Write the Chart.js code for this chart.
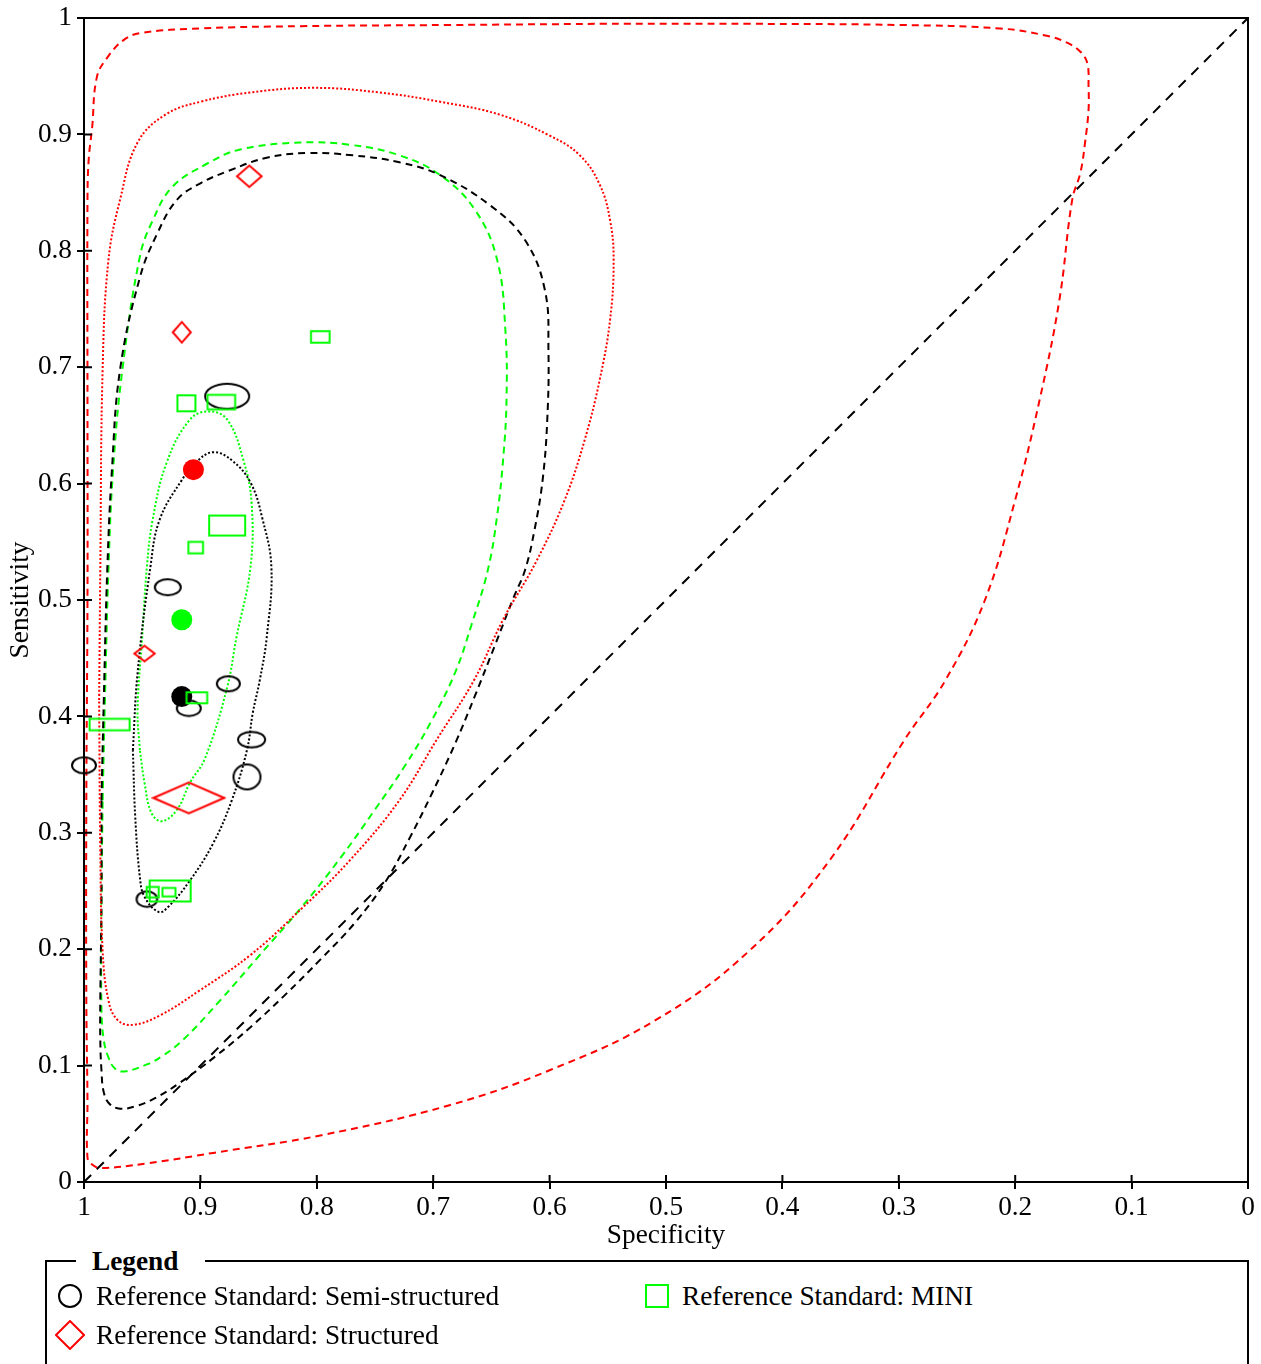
<!DOCTYPE html>
<html>
<head>
<meta charset="utf-8">
<title>SROC plot</title>
<script src="https://cdn.jsdelivr.net/npm/chart.js@4.4.1/dist/chart.umd.min.js"></script>
<style>
  body { margin: 0; background: #fff; }
  #wrap { position: relative; width: 1261px; height: 1364px; overflow: hidden; font-family: 'Liberation Serif', 'Times New Roman', serif; font-size: 27.3px; color: #000; }
  #sroc { position: absolute; left: 0; top: 0; }
  #legendBox { position: absolute; left: 45px; top: 1260px; width: 1204px; height: 200px; box-sizing: border-box; border: 2px solid #000; }
  #legendTitle { position: absolute; left: 76px; top: 1245px; padding: 0 27px 0 16px; background: #fff; font-weight: bold; line-height: 32px; }
  .item { position: absolute; line-height: 32px; white-space: nowrap; }
  .icon { position: absolute; }
</style>
</head>
<body>
<div id="wrap">
  <canvas id="sroc" width="1261" height="1252"></canvas>
  <div id="legendBox"></div>
  <div id="legendTitle">Legend</div>
  <svg class="icon" style="left:57px;top:1283px" width="26" height="26"><ellipse cx="13" cy="13" rx="11" ry="11" fill="none" stroke="#000" stroke-width="2"/></svg>
  <div class="item" style="left:96px;top:1280px">Reference Standard: Semi-structured</div>
  <svg class="icon" style="left:55px;top:1320px" width="30" height="30"><polygon points="1,15 15,1 29,15 15,29" fill="none" stroke="#ff0000" stroke-width="2"/></svg>
  <div class="item" style="left:96px;top:1319px">Reference Standard: Structured</div>
  <svg class="icon" style="left:645px;top:1284px" width="24" height="24"><rect x="1" y="1" width="22" height="22" fill="none" stroke="#00ff00" stroke-width="2"/></svg>
  <div class="item" style="left:682px;top:1280px">Reference Standard: MINI</div>
</div>
<script>
// Axis ticks (both axes use the same values)
const tickValues = [0, 0.1, 0.2, 0.3, 0.4, 0.5, 0.6, 0.7, 0.8, 0.9, 1];
const tickLabels = ['0', '0.1', '0.2', '0.3', '0.4', '0.5', '0.6', '0.7', '0.8', '0.9', '1'];

// Study estimates, Reference Standard: Semi-structured (ellipses)
const semiSpec = [0.877, 0.928, 0.876, 0.910, 0.856, 0.860, 1.000, 0.946];
const semiSens = [0.675, 0.511, 0.428, 0.407, 0.380, 0.348, 0.358, 0.243];
// marker half width / half height in px (proportional to study size)
const semiBoxW = [22, 13, 11.5, 12, 13.5, 13.5, 12, 10.3];
const semiBoxH = [12.5, 8, 7.5, 7.8, 7.8, 12.5, 8, 7.8];

// Study estimates, Reference Standard: MINI (rectangles)
const miniSpec = [0.912, 0.882, 0.877, 0.904, 0.903, 0.978, 0.926, 0.941, 0.927, 0.797];
const miniSens = [0.669, 0.670, 0.564, 0.545, 0.416, 0.393, 0.250, 0.249, 0.249, 0.726];
const miniBoxW = [9, 13.8, 18, 7.3, 10.3, 20, 20.5, 6, 6.5, 9.3];
const miniBoxH = [8, 7.3, 10, 5.8, 5.5, 5.8, 10.5, 5.2, 4.3, 5.7];

// Study estimates, Reference Standard: Structured (diamonds)
const structSpec = [0.858, 0.916, 0.948, 0.910];
const structSens = [0.864, 0.730, 0.454, 0.330];
const structBoxW = [12.3, 9, 10.2, 35.3];
const structBoxH = [10.7, 10.3, 7.8, 15.3];

// Summary points: semi-structured, MINI, structured
const summarySpec = [0.916, 0.916, 0.906];
const summarySens = [0.417, 0.483, 0.612];

// 95% confidence regions (dotted)
const semiConfSpec = [0.889, 0.873, 0.857, 0.847, 0.839, 0.843, 0.849, 0.855, 0.860, 0.873, 0.889, 0.909, 0.928, 0.936, 0.948, 0.952, 0.956, 0.958, 0.954, 0.943, 0.935, 0.916, 0.903];
const semiConfSens = [0.627, 0.620, 0.601, 0.571, 0.528, 0.468, 0.431, 0.403, 0.371, 0.328, 0.291, 0.259, 0.236, 0.232, 0.245, 0.262, 0.314, 0.371, 0.437, 0.528, 0.569, 0.603, 0.619];

const miniConfSpec = [0.893, 0.877, 0.863, 0.856, 0.857, 0.869, 0.877, 0.896, 0.909, 0.920, 0.933, 0.942, 0.948, 0.952, 0.954, 0.950, 0.946, 0.941, 0.929, 0.909];
const miniConfSens = [0.662, 0.655, 0.620, 0.583, 0.528, 0.468, 0.425, 0.364, 0.343, 0.320, 0.310, 0.317, 0.343, 0.371, 0.405, 0.468, 0.528, 0.569, 0.618, 0.655];

const structConfSpec = [0.803, 0.746, 0.694, 0.643, 0.600, 0.574, 0.557, 0.548, 0.545, 0.548, 0.557, 0.570, 0.587, 0.611, 0.640, 0.665, 0.697, 0.729, 0.771, 0.814, 0.857, 0.900, 0.935, 0.958, 0.971, 0.979, 0.984, 0.986, 0.987, 0.986, 0.984, 0.979, 0.969, 0.954, 0.930, 0.900, 0.857];
const structConfSens = [0.940, 0.936, 0.928, 0.917, 0.899, 0.882, 0.857, 0.826, 0.792, 0.741, 0.689, 0.637, 0.586, 0.534, 0.483, 0.431, 0.380, 0.328, 0.277, 0.234, 0.195, 0.165, 0.143, 0.135, 0.139, 0.156, 0.199, 0.285, 0.414, 0.526, 0.698, 0.792, 0.844, 0.893, 0.917, 0.928, 0.936];

// 95% prediction regions (dashed)
const semiPredSpec = [0.808, 0.769, 0.729, 0.694, 0.651, 0.621, 0.604, 0.601, 0.602, 0.606, 0.613, 0.621, 0.631, 0.647, 0.664, 0.681, 0.701, 0.720, 0.741, 0.767, 0.797, 0.827, 0.857, 0.887, 0.918, 0.939, 0.956, 0.969, 0.978, 0.983, 0.985, 0.986, 0.986, 0.985, 0.985, 0.983, 0.980, 0.976, 0.969, 0.952, 0.937, 0.920, 0.900, 0.875, 0.843];
const semiPredSens = [0.884, 0.882, 0.876, 0.865, 0.839, 0.809, 0.766, 0.715, 0.655, 0.603, 0.560, 0.526, 0.502, 0.461, 0.418, 0.377, 0.334, 0.296, 0.258, 0.223, 0.191, 0.161, 0.133, 0.108, 0.085, 0.072, 0.065, 0.063, 0.067, 0.077, 0.096, 0.122, 0.156, 0.242, 0.328, 0.414, 0.526, 0.612, 0.698, 0.777, 0.815, 0.844, 0.858, 0.869, 0.880];

const miniPredSpec = [0.814, 0.771, 0.729, 0.694, 0.664, 0.645, 0.638, 0.637, 0.640, 0.645, 0.653, 0.667, 0.681, 0.701, 0.724, 0.750, 0.780, 0.814, 0.849, 0.883, 0.915, 0.933, 0.946, 0.965, 0.973, 0.979, 0.983, 0.985, 0.985, 0.984, 0.982, 0.979, 0.975, 0.967, 0.952, 0.941, 0.924, 0.894, 0.866];
const miniPredSens = [0.893, 0.891, 0.882, 0.865, 0.835, 0.792, 0.732, 0.672, 0.620, 0.573, 0.526, 0.479, 0.438, 0.397, 0.358, 0.320, 0.278, 0.235, 0.195, 0.156, 0.122, 0.108, 0.101, 0.095, 0.097, 0.107, 0.122, 0.148, 0.242, 0.328, 0.414, 0.526, 0.612, 0.698, 0.795, 0.826, 0.855, 0.875, 0.887];

const structPredSpec = [0.952, 0.900, 0.814, 0.686, 0.557, 0.428, 0.299, 0.213, 0.174, 0.156, 0.144, 0.138, 0.137, 0.137, 0.140, 0.144, 0.151, 0.162, 0.179, 0.200, 0.226, 0.260, 0.295, 0.359, 0.428, 0.509, 0.600, 0.686, 0.797, 0.889, 0.946, 0.986, 0.993, 0.997, 0.997, 0.998, 0.998, 0.997, 0.997, 0.997, 0.996, 0.993, 0.989, 0.980, 0.966];
const structPredSens = [0.987, 0.991, 0.993, 0.994, 0.995, 0.995, 0.994, 0.991, 0.985, 0.979, 0.971, 0.961, 0.941, 0.921, 0.893, 0.867, 0.844, 0.758, 0.672, 0.586, 0.500, 0.431, 0.380, 0.277, 0.199, 0.139, 0.096, 0.066, 0.040, 0.025, 0.016, 0.012, 0.015, 0.021, 0.070, 0.156, 0.328, 0.500, 0.672, 0.844, 0.878, 0.906, 0.949, 0.966, 0.981];

// Chance line
const diagSpec = [1, 0];
const diagSens = [0, 1];

const RED = '#ff0000';
const GREEN = '#00ff00';
const BLACK = '#000000';

Chart.defaults.font.family = "'Liberation Serif', 'Times New Roman', serif";
Chart.defaults.font.size = 27.3;
Chart.defaults.color = '#000';

// Build a small canvas used as point style for each study marker
function makeMarker(shape, w, h, color) {
  const c = document.createElement('canvas');
  c.width = Math.ceil(2 * w + 4);
  c.height = Math.ceil(2 * h + 4);
  const g = c.getContext('2d');
  const cx = c.width / 2, cy = c.height / 2;
  g.strokeStyle = color;
  g.lineWidth = 2;
  g.beginPath();
  if (shape === 'ellipse') {
    g.ellipse(cx, cy, w, h, 0, 0, 2 * Math.PI);
  } else if (shape === 'rect') {
    g.rect(cx - w, cy - h, 2 * w, 2 * h);
  } else {
    g.moveTo(cx - w, cy);
    g.lineTo(cx, cy - h);
    g.lineTo(cx + w, cy);
    g.lineTo(cx, cy + h);
    g.closePath();
  }
  g.stroke();
  return c;
}

function toPoints(xs, ys) {
  return xs.map((x, i) => ({ x: x, y: ys[i] }));
}

function studyDataset(label, xs, ys, ws, hs, shape, color) {
  return {
    label: label,
    data: toPoints(xs, ys),
    pointStyle: ws.map((w, i) => makeMarker(shape, w, hs[i], color)),
    pointRadius: 1,
    showLine: false,
    clip: false
  };
}

// Closed region; "start" picks a flat stretch of the outline to begin the loop
function regionDataset(label, xs, ys, color, dash, start) {
  const pts = toPoints(xs, ys);
  const loop = pts.slice(start).concat(pts.slice(0, start));
  loop.push(loop[0]);
  return {
    label: label,
    data: loop,
    showLine: true,
    borderColor: color,
    borderWidth: 2,
    borderDash: dash,
    pointRadius: 0,
    tension: 0.4,
    fill: false
  };
}

const summaryPts = toPoints(summarySpec, summarySens);

// Draws the top/right frame lines and the inner halves of the tick marks
const framePlugin = {
  id: 'frame',
  afterDraw(chart) {
    const { ctx, chartArea } = chart;
    const xs = chart.scales.x, ys = chart.scales.y;
    ctx.save();
    ctx.strokeStyle = '#000';
    ctx.lineWidth = 2;
    ctx.beginPath();
    ctx.moveTo(chartArea.left, chartArea.top);
    ctx.lineTo(chartArea.right, chartArea.top);
    ctx.lineTo(chartArea.right, chartArea.bottom);
    tickValues.forEach(v => {
      const px = xs.getPixelForValue(v);
      ctx.moveTo(px, chartArea.bottom);
      ctx.lineTo(px, chartArea.bottom - 7);
      const py = ys.getPixelForValue(v);
      ctx.moveTo(chartArea.left, py);
      ctx.lineTo(chartArea.left + 8, py);
    });
    ctx.stroke();
    ctx.restore();
  }
};

const axisCommon = {
  type: 'linear',
  min: 0,
  max: 1,
  afterBuildTicks: (scale) => { scale.ticks = tickValues.map(v => ({ value: v })); },
  grid: { drawOnChartArea: false, drawTicks: true, tickLength: 7, color: '#000', lineWidth: 2 },
  border: { display: true, color: '#000', width: 2 }
};

new Chart(document.getElementById('sroc'), {
  type: 'scatter',
  data: {
    datasets: [
      studyDataset('Reference Standard: MINI', miniSpec, miniSens, miniBoxW, miniBoxH, 'rect', GREEN),
      {
        label: 'Summary points',
        data: summaryPts,
        pointRadius: 10.5,
        pointBackgroundColor: [BLACK, GREEN, RED],
        pointBorderColor: [BLACK, GREEN, RED],
        pointBorderWidth: 0
      },
      studyDataset('Reference Standard: Structured', structSpec, structSens, structBoxW, structBoxH, 'diamond', RED),
      studyDataset('Reference Standard: Semi-structured', semiSpec, semiSens, semiBoxW, semiBoxH, 'ellipse', BLACK),
      regionDataset('Semi-structured confidence region', semiConfSpec, semiConfSens, BLACK, [2, 2], 17),
      regionDataset('MINI confidence region', miniConfSpec, miniConfSens, GREEN, [2, 2], 13),
      regionDataset('Structured confidence region', structConfSpec, structConfSens, RED, [2, 2], 28),
      regionDataset('Semi-structured prediction region', semiPredSpec, semiPredSens, BLACK, [7, 5], 34),
      regionDataset('MINI prediction region', miniPredSpec, miniPredSens, GREEN, [7, 5], 29),
      regionDataset('Structured prediction region', structPredSpec, structPredSens, RED, [7, 5], 4),
      {
        label: 'Chance line',
        data: toPoints(diagSpec, diagSens),
        showLine: true,
        borderColor: BLACK,
        borderWidth: 2,
        borderDash: [10, 8],
        pointRadius: 0
      }
    ]
  },
  options: {
    responsive: false,
    animation: false,
    events: [],
    layout: { padding: { top: 18, right: 13, left: 0, bottom: 0 } },
    plugins: { legend: { display: false }, tooltip: { enabled: false } },
    scales: {
      x: Object.assign({}, axisCommon, {
        reverse: true,
        afterFit: (scale) => { scale.height = 70; scale.paddingLeft = 0; scale.paddingRight = 0; },
        ticks: { padding: 2, maxRotation: 0, autoSkip: false, callback: (v) => tickLabels[tickValues.indexOf(v)] },
        title: { display: true, text: 'Specificity', padding: { top: 0, bottom: 0 } }
      }),
      y: Object.assign({}, axisCommon, {
        afterFit: (scale) => { scale.width = 84; scale.paddingTop = 0; scale.paddingBottom = 0; },
        ticks: { padding: 5, autoSkip: false, callback: (v) => tickLabels[tickValues.indexOf(v)] },
        title: { display: true, text: 'Sensitivity', padding: { top: 4, bottom: 0 } }
      })
    }
  },
  plugins: [framePlugin]
});
</script>
</body>
</html>
